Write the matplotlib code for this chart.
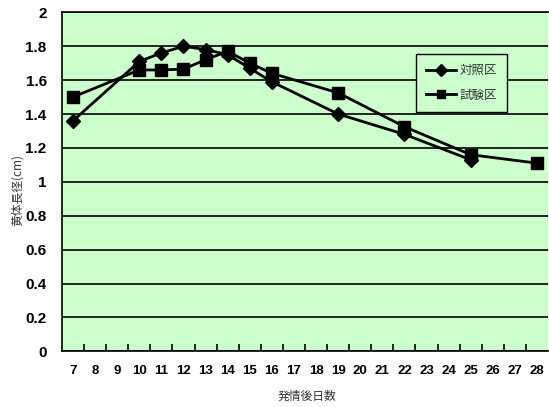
import matplotlib
matplotlib.use("Agg")
import matplotlib.pyplot as plt
from matplotlib.ticker import FixedLocator, MultipleLocator

plt.rcParams['font.family'] = ['Liberation Sans', 'Noto Sans CJK JP', 'DejaVu Sans']

days = list(range(7, 29))
ctrl_days = [7, 10, 11, 12, 13, 14, 15, 16, 19, 22, 25]
ctrl_vals = [1.36, 1.71, 1.76, 1.80, 1.78, 1.75, 1.67, 1.59, 1.40, 1.28, 1.13]
test_days = [7, 10, 11, 12, 13, 14, 15, 16, 19, 22, 25, 28]
test_vals = [1.50, 1.66, 1.66, 1.665, 1.72, 1.77, 1.70, 1.64, 1.525, 1.325, 1.16, 1.11]
series_names = ['対照区', '試験区']

W, H = 549, 407
fig = plt.figure(figsize=(W / 100, H / 100), dpi=100)
ax = fig.add_axes([62 / W, (H - 351.3) / H, (548 - 62) / W, (351.3 - 12.3) / H])
ax.set_facecolor('#CCFFCC')

ax.plot(ctrl_days, ctrl_vals, color='black', lw=2, marker='D', ms=7.5,
        label=series_names[0], zorder=3)
ax.plot(test_days, test_vals, color='black', lw=2, marker='s', ms=8,
        label=series_names[1], zorder=3)

ax.set_xlim(6.5, 28.5)
ax.set_ylim(0, 2)
ax.yaxis.set_major_locator(MultipleLocator(0.2))
ax.set_yticklabels([f'{v:g}' for v in ax.get_yticks()])
ax.grid(axis='y', color='black', lw=1.2)
ax.set_axisbelow(True)

ax.set_xticks(days)
ax.set_xticklabels([str(d) for d in days])
ax.xaxis.set_minor_locator(FixedLocator([d + 0.5 for d in days[:-1]]))
ax.tick_params(axis='x', which='major', length=0, pad=10)
ax.tick_params(axis='x', which='minor', direction='in', length=5, width=1.2)
ax.tick_params(axis='y', length=0, pad=11)
for lbl in ax.get_xticklabels():
    lbl.set_fontsize(9.5)
    lbl.set_fontweight('bold')
for lbl in ax.get_yticklabels():
    lbl.set_fontsize(11)
    lbl.set_fontweight('bold')

for side in ['left', 'bottom', 'top']:
    ax.spines[side].set_linewidth(1.2)
ax.spines['right'].set_visible(False)

fig.text(17 / W, 1 - 190 / H, '黄体長径(cm)', rotation=90, ha='center', va='center',
         fontsize=8.5, color='#333333', family=['Noto Sans CJK JP', 'DejaVu Sans'])
fig.text(307 / W, 1 - 396 / H, '発情後日数', ha='center', va='center',
         fontsize=8.5, color='#333333', family=['Noto Sans CJK JP', 'DejaVu Sans'])

leg = ax.legend(loc='upper left', bbox_to_anchor=(415.7 / W, 1 - 54.3 / H),
                bbox_transform=fig.transFigure, borderaxespad=0, fancybox=False,
                framealpha=1, facecolor='#CCFFCC', edgecolor='black', borderpad=0.8,
                labelspacing=0.9, handlelength=2.4, handletextpad=0.3,
                prop={'family': ['Noto Sans CJK JP', 'DejaVu Sans'], 'size': 9})
leg.get_frame().set_linewidth(1)
for h in leg.legend_handles:
    h.set_markersize(6)
for t in leg.get_texts():
    t.set_color('#333333')

fig.savefig('out.png', dpi=100, facecolor='white')
